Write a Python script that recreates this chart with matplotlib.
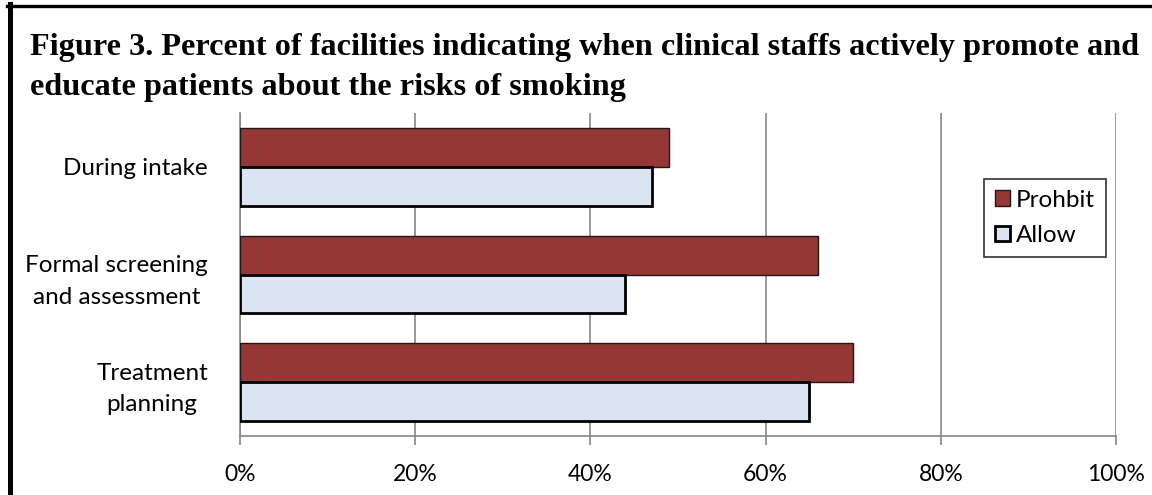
import matplotlib
matplotlib.use("Agg")
import matplotlib.pyplot as plt
from matplotlib.patches import Patch
from matplotlib.lines import Line2D
import numpy as np

categories = ["During intake", "Formal screening\nand assessment", "Treatment\nplanning"]
prohibit = [49, 66, 70]
allow = [47, 44, 65]
series_names = ["Prohbit", "Allow"]
xticks = [0, 20, 40, 60, 80, 100]
xtick_labels = ["0%", "20%", "40%", "60%", "80%", "100%"]
title = ("Figure 3. Percent of facilities indicating when clinical staffs actively promote and\n"
         "educate patients about the risks of smoking")

W, H = 1152, 495
DPI = 100
RED = "#953735"
BLUE = "#DBE5F1"
GRID = "#868686"
LABEL_FONT = ["Lato", "DejaVu Sans"]

fig = plt.figure(figsize=(W / DPI, H / DPI), dpi=DPI)
fig.patch.set_facecolor("white")

# plot area in pixel coordinates
x0, x1 = 240, 1116
y_top, y_bot = 113, 436
ax = fig.add_axes([x0 / W, 1 - y_bot / H, (x1 - x0) / W, (y_bot - y_top) / H])

y = np.arange(len(categories))
bar_h = 0.362
ax.barh(y - bar_h / 2, prohibit, height=bar_h, color=RED, edgecolor="#1a1a1a",
        linewidth=1.0, zorder=3, label=series_names[0])
ax.barh(y + bar_h / 2, allow, height=bar_h, color=BLUE, edgecolor="black",
        linewidth=2.0, zorder=3, label=series_names[1])

ax.set_xlim(0, 100)
ax.set_ylim(len(categories) - 0.5, -0.5)
ax.set_xticks(xticks)
ax.set_xticklabels(xtick_labels, fontsize=16.5, family=LABEL_FONT)
ax.set_yticks(y)
ax.set_yticklabels(categories, fontsize=17.5, family=LABEL_FONT,
                   multialignment="center", linespacing=1.6)
ax.tick_params(axis="y", length=0, pad=23)
ax.tick_params(axis="x", length=6.5, width=1.2, color=GRID, pad=14)
ax.grid(axis="x", color=GRID, linewidth=1.2, zorder=0)
for side in ["top", "right"]:
    ax.spines[side].set_visible(False)
for side in ["left", "bottom"]:
    ax.spines[side].set_color(GRID)
    ax.spines[side].set_linewidth(1.2)
    ax.spines[side].set_zorder(1)

handles = [Patch(facecolor=RED, edgecolor="#1a1a1a", linewidth=1.0),
           Patch(facecolor=BLUE, edgecolor="black", linewidth=2.0)]
leg = fig.legend(handles, series_names, loc="center",
                 bbox_to_anchor=((982 + 1108) / 2 / W, 1 - 218 / H),
                 bbox_transform=fig.transFigure, frameon=True, fancybox=False,
                 handlelength=0.6, handleheight=0.6, handletextpad=0.25,
                 labelspacing=0.6, borderpad=0.45, prop={"family": LABEL_FONT, "size": 17.5})
leg.get_frame().set_edgecolor("black")
leg.get_frame().set_linewidth(1.2)

fig.text(30 / W, 1 - 33 / H, title, ha="left", va="top", fontsize=23.2,
         fontweight="bold", family=["Liberation Serif", "DejaVu Serif"], linespacing=1.5)

# frame drawn around the figure (left and top edges)
fig.add_artist(Line2D([9.5 / W, 9.5 / W], [0, 1 - 4 / H], transform=fig.transFigure,
                      color="black", linewidth=3.6))
fig.add_artist(Line2D([7 / W, 1], [1 - 5.5 / H, 1 - 5.5 / H], transform=fig.transFigure,
                      color="black", linewidth=2.4))

fig.savefig("out.png", dpi=DPI, facecolor="white")
